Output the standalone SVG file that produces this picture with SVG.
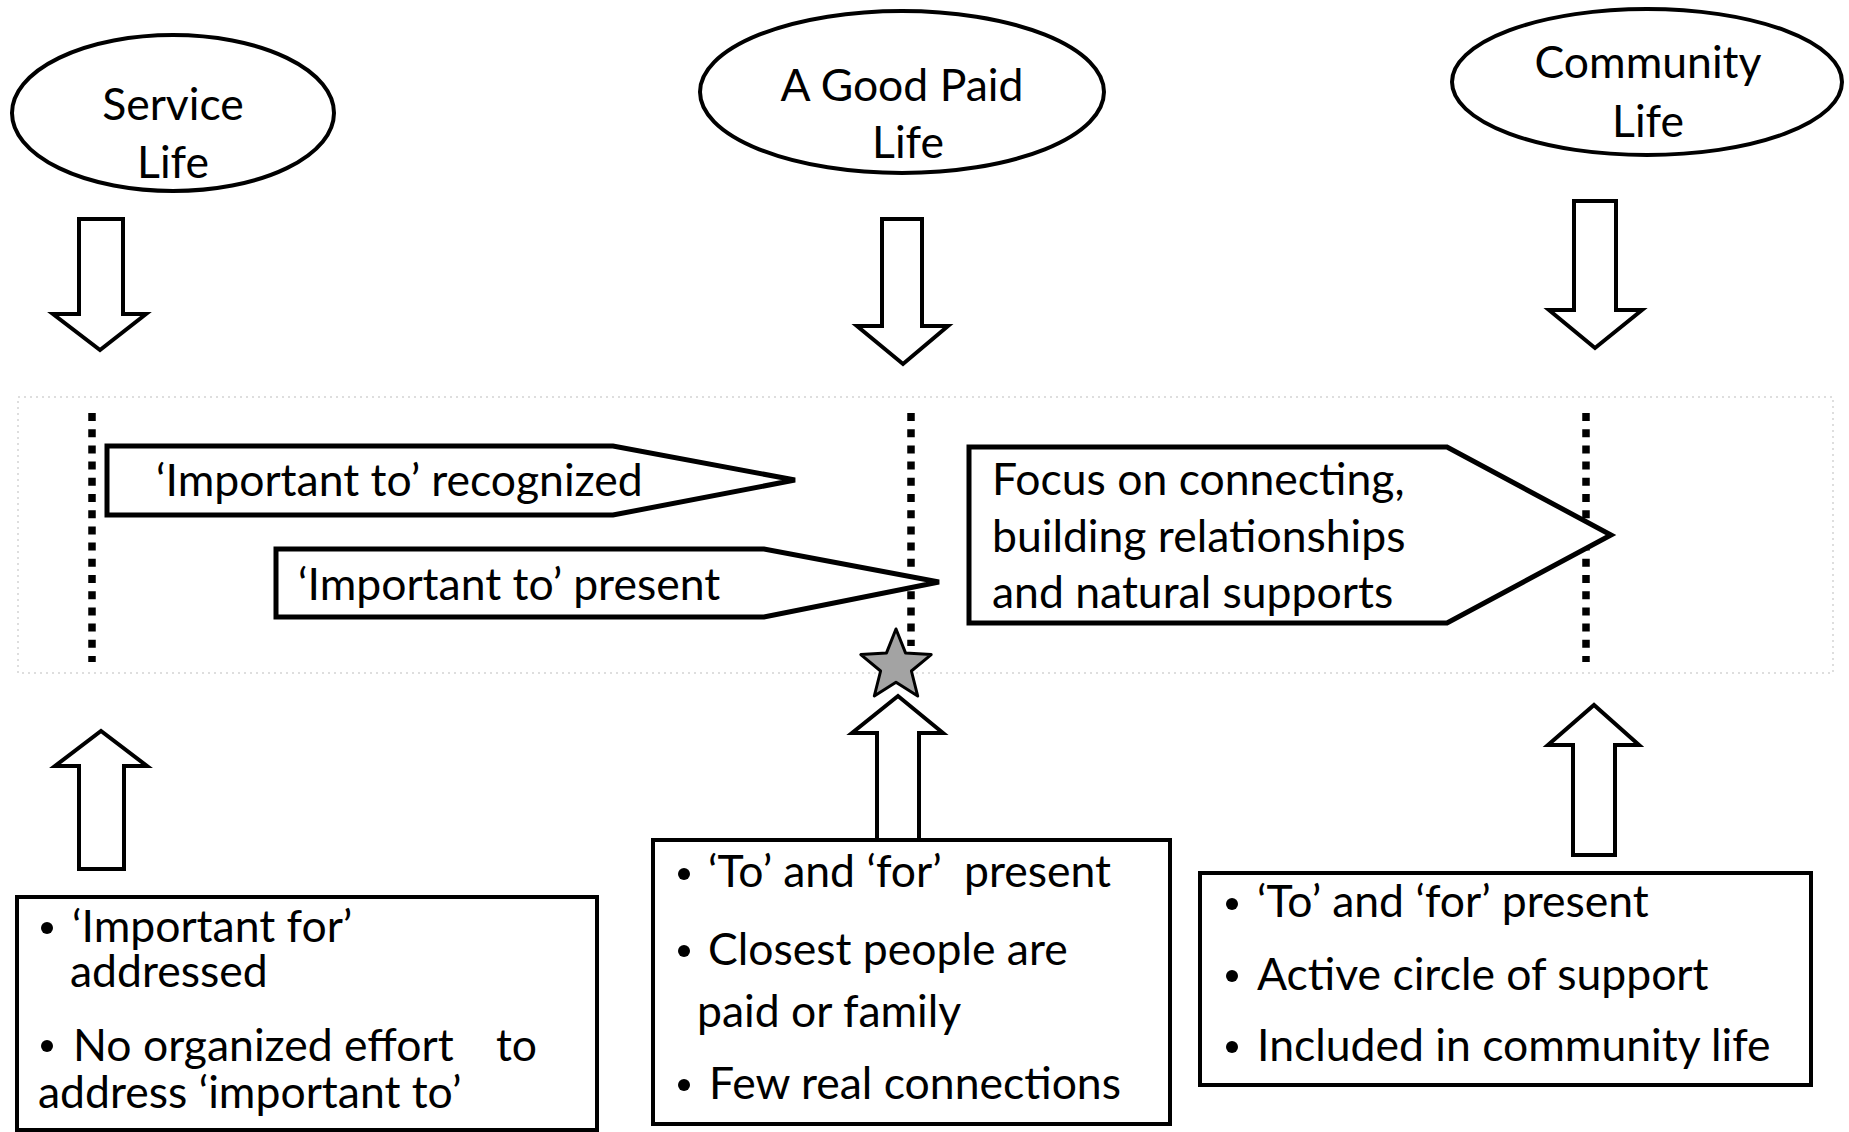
<svg xmlns="http://www.w3.org/2000/svg" width="1849" height="1132" viewBox="0 0 1849 1132">
  <style>
    .t { font-family: Lato, "Open Sans", "Liberation Sans", sans-serif; font-size: 44.5px; fill: #000; }
    .mid { text-anchor: middle; }
    .oval { fill: #fff; stroke: #000; stroke-width: 4; }
    .block { fill: #fff; stroke: #000; stroke-width: 4; stroke-linejoin: miter; }
    .pent { fill: #fff; stroke: #000; stroke-width: 5; stroke-linejoin: miter; }
    .box { fill: #fff; stroke: #000; stroke-width: 4; }
    .dots { stroke: #000; stroke-width: 7.5; stroke-dasharray: 8 8.2; fill: none; }
    .haze { fill: none; stroke: #d4d4d4; stroke-width: 1.5; stroke-dasharray: 2 4; }
  </style>

  <rect width="1849" height="1132" fill="#fff"/>

  <!-- faint band behind the timeline -->
  <rect class="haze" x="18" y="397" width="1815" height="276"/>

  <!-- stage ovals -->
  <g id="service-life">
    <ellipse class="oval" cx="173" cy="113" rx="161" ry="78"/>
    <text class="t mid" x="173" y="120">Service</text>
    <text class="t mid" x="173" y="178">Life</text>
  </g>
  <g id="good-paid-life">
    <ellipse class="oval" cx="902" cy="92" rx="202" ry="81"/>
    <text class="t mid" x="902" y="101">A Good Paid</text>
    <text class="t mid" x="908" y="158">Life</text>
  </g>
  <g id="community-life">
    <ellipse class="oval" cx="1647" cy="82" rx="195" ry="73"/>
    <text class="t mid" x="1648" y="78">Community</text>
    <text class="t mid" x="1648" y="137">Life</text>
  </g>

  <!-- block arrows and dotted stage markers -->
  <g id="connectors">
    <path class="block" d="M79,219 H123 V314 H146 L100,350 L53,314 H79 Z"/>
    <path class="block" d="M882,219 H922 V326 H948 L903,364 L857,326 H882 Z"/>
    <path class="block" d="M1574,201 H1616 V310 H1642 L1595,348 L1549,310 H1574 Z"/>

    <path class="block" d="M79,869 V766 H55 L101,731 L147,766 H124 V869 Z"/>
    <path class="block" d="M877,840 V733 H852 L898,696 L943,733 H919 V840 Z"/>
    <path class="block" d="M1573,855 V745 H1548 L1594,705 L1639,745 H1615 V855 Z"/>

    <line class="dots" x1="92" y1="413" x2="92" y2="662"/>
    <line class="dots" x1="911" y1="413" x2="911" y2="646"/>
    <line class="dots" x1="1586" y1="413" x2="1586" y2="662"/>
  </g>

  <!-- milestone star -->
  <g id="star">
    <polygon points="896,629 905.5,652.9 931.2,654.6 911.4,671 917.7,696 896,682.2 874.3,696 880.6,671 860.8,654.6 886.5,652.9" fill="#a3a3a3" stroke="#000" stroke-width="3" stroke-linejoin="round"/>
  </g>

  <!-- timeline pentagons -->
  <g id="important-to-recognized">
    <path class="pent" d="M107,446 H613 L795,480 L613,515 H107 Z"/>
    <text class="t" x="156" y="496">‘Important to’ recognized</text>
  </g>
  <g id="important-to-present">
    <path class="pent" d="M276,549 H764 L939,582 L764,617 H276 Z"/>
    <text class="t" x="298" y="600">‘Important to’ present</text>
  </g>
  <g id="focus-on-connecting">
    <path class="pent" d="M969,447 H1447 L1611,535 L1447,623 H969 Z"/>
    <text class="t" x="992" y="495">Focus on connecting,</text>
    <text class="t" x="992" y="552">building relationships</text>
    <text class="t" x="992" y="608">and natural supports</text>
  </g>

  <!-- description boxes -->
  <g id="service-life-box">
    <rect class="box" x="17" y="897" width="580" height="233"/>
    <circle cx="47" cy="928" r="6"/>
    <text class="t" x="72" y="942">‘Important for’</text>
    <text class="t" x="70" y="987">addressed</text>
    <circle cx="47" cy="1046" r="6"/>
    <text class="t" x="73" y="1061">No organized effort</text>
    <text class="t" x="496" y="1061">to</text>
    <text class="t" x="38" y="1108">address ‘important to’</text>
  </g>
  <g id="good-paid-life-box">
    <rect class="box" x="653" y="840" width="517" height="284"/>
    <circle cx="684" cy="874" r="6"/>
    <text class="t" x="708" y="887" xml:space="preserve">‘To’ and ‘for’  present</text>
    <circle cx="684" cy="951" r="6"/>
    <text class="t" x="708" y="965">Closest people are</text>
    <text class="t" x="697" y="1027">paid or family</text>
    <circle cx="684" cy="1085" r="6"/>
    <text class="t" x="709" y="1099">Few real connections</text>
  </g>
  <g id="community-life-box">
    <rect class="box" x="1200" y="873" width="611" height="212"/>
    <circle cx="1232" cy="904" r="6"/>
    <text class="t" x="1257" y="917">‘To’ and ‘for’ present</text>
    <circle cx="1232" cy="976" r="6"/>
    <text class="t" x="1257" y="990">Active circle of support</text>
    <circle cx="1232" cy="1047" r="6"/>
    <text class="t" x="1257" y="1061">Included in community life</text>
  </g>
</svg>
